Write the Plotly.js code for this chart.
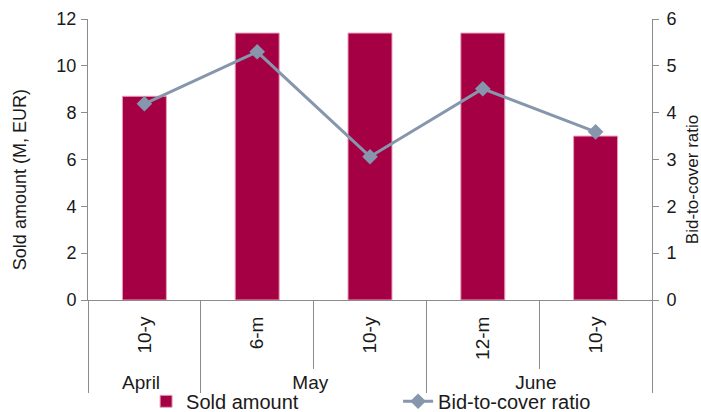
<!DOCTYPE html>
<html>
<head>
<meta charset="utf-8">
<script src="https://cdn.plot.ly/plotly-3.0.1.min.js"></script>
<style>html,body{margin:0;padding:0;background:#fff;}#chart{width:701px;height:412px;}</style>
</head>
<body>
<div id="chart"></div>
<script>
const months = ['April', 'May', 'May', 'June', 'June'];
// zero-width spaces keep the repeated "10-y" labels distinct so Plotly keeps this order
const tenors = ['10-y', '6-m', '10-y\u200b', '12-m', '10-y\u200b\u200b'];
const soldAmount = [8.7, 11.4, 11.4, 11.4, 7.0];
const bidToCover = [4.19, 5.3, 3.06, 4.51, 3.59];
const leftTitle = 'Sold amount (M, EUR)';
const rightTitle = 'Bid-to-cover ratio';

const axisColor = '#8c8c8c';
const fontFam = '"Liberation Sans", Arial, sans-serif';

const traces = [
  {
    type: 'bar', name: 'Sold amount',
    x: [months, tenors], y: soldAmount,
    width: 0.39,
    marker: {color: '#A50044', line: {color: '#e8a0b8', width: 1}},
    yaxis: 'y'
  },
  {
    type: 'scatter', mode: 'lines+markers', name: 'Bid-to-cover ratio',
    x: [months, tenors], y: bidToCover,
    line: {color: '#8696AC', width: 3},
    marker: {symbol: 'diamond', size: 12, color: '#8696AC'},
    yaxis: 'y2'
  }
];

const yCommon = {showgrid: false, zeroline: false, showline: true, linecolor: axisColor,
                 linewidth: 1, tickcolor: axisColor, automargin: false};

const layout = {
  width: 701, height: 412,
  margin: {l: 88, r: 49, t: 19, b: 112},
  paper_bgcolor: '#fff', plot_bgcolor: '#fff',
  font: {family: fontFam, size: 18, color: '#1a1a1a'},
  showlegend: true,
  legend: {orientation: 'h', xref: 'paper', x: 0.103, xanchor: 'left',
           yref: 'container', y: 0.026, yanchor: 'middle', bgcolor: 'rgba(0,0,0,0)',
           entrywidth: 207, font: {size: 20}},
  xaxis: {
    type: 'multicategory',
    showline: true, linecolor: axisColor, linewidth: 1,
    ticks: 'outside', ticklen: 68, tickcolor: axisColor, tickwidth: 1,
    tickangle: -90, ticklabelstandoff: 8, tickfont: {size: 19},
    showdividers: true, dividercolor: axisColor, dividerwidth: 1,
    showgrid: false, zeroline: false, automargin: false
  },
  yaxis: Object.assign({}, yCommon, {
    range: [0, 12], dtick: 2, ticks: 'outside', ticklen: 6, ticklabelstandoff: 1
  }),
  yaxis3: Object.assign({}, yCommon, {
    range: [0, 12], dtick: 2, ticks: 'inside', ticklen: 7, overlaying: 'y',
    side: 'left', showticklabels: false
  }),
  yaxis2: Object.assign({}, yCommon, {
    range: [0, 6], dtick: 1, overlaying: 'y', side: 'right', ticks: 'outside', ticklen: 6,
    ticklabelstandoff: 4
  }),
  yaxis4: Object.assign({}, yCommon, {
    range: [0, 6], dtick: 1, ticks: 'inside', ticklen: 7, overlaying: 'y',
    side: 'right', showticklabels: false
  }),
  annotations: [
    {text: leftTitle, textangle: -90, showarrow: false,
     xref: 'paper', yref: 'paper', x: -0.1206, y: 0.43, xanchor: 'center', yanchor: 'middle',
     font: {size: 18, color: '#1a1a1a'}},
    {text: rightTitle, textangle: -90, showarrow: false,
     xref: 'paper', yref: 'paper', x: 1.0709, y: 0.43, xanchor: 'center', yanchor: 'middle',
     font: {size: 17, color: '#1a1a1a'}}
  ]
};

Plotly.newPlot('chart', traces, layout, {displayModeBar: false, staticPlot: true});
</script>
</body>
</html>
